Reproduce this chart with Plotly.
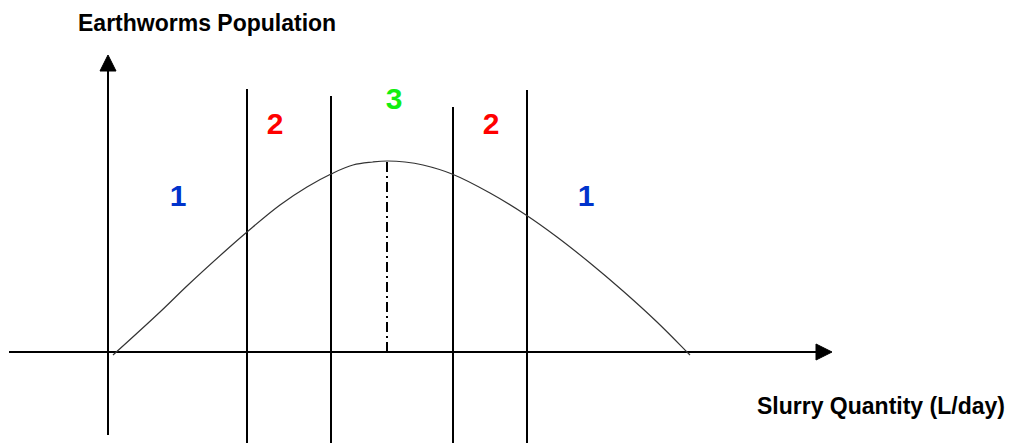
import plotly.graph_objects as go

# origin of the sketch = where the two axes cross; 1 unit ~ 1 px
curve_x = [5, 52, 80, 115, 139, 172, 199, 223, 245, 265, 279, 297, 315, 344, 382, 418, 449, 482, 515, 549, 579, 582]
curve_y = [-3, 40, 67, 99, 120, 147, 165, 178, 187, 190, 191, 190, 187, 178, 159, 137, 115, 89, 61, 30, 0, -3]

# zone boundaries (vertical lines) and their top ends
bound_x = [139, 223, 345, 419]
bound_top = [263, 256, 245, 262]
bound_bottom = -91

# optimum marker (dash-dot) at the peak of the curve
peak_x = 279
peak_y = 191

# zone labels
zone_text = ["1", "2", "3", "2", "1"]
zone_x = [70, 167, 286, 383, 478]
zone_y = [154, 226, 251, 226, 154]
zone_color = ["#0033cc", "#ff0000", "#11ee11", "#ff0000", "#0033cc"]

# axes extents
x_axis = [-99, 724]
y_axis = [-83, 297]
head_len = 16
head_half = 8

FONT = "Liberation Sans, Arial, sans-serif"

fig = go.Figure()

# axis lines
fig.add_trace(go.Scatter(x=[x_axis[0], x_axis[1] - head_len], y=[0, 0], mode="lines",
                         line=dict(color="black", width=2), hoverinfo="skip"))
fig.add_trace(go.Scatter(x=[0, 0], y=[y_axis[0], y_axis[1] - head_len], mode="lines",
                         line=dict(color="black", width=2), hoverinfo="skip"))

# arrow heads
tx = x_axis[1]
fig.add_trace(go.Scatter(x=[tx, tx - head_len, tx - head_len, tx], y=[0, head_half, -head_half, 0],
                         mode="lines", fill="toself", fillcolor="black",
                         line=dict(color="black", width=1), hoverinfo="skip"))
ty = y_axis[1]
fig.add_trace(go.Scatter(x=[0, -head_half, head_half, 0], y=[ty, ty - head_len, ty - head_len, ty],
                         mode="lines", fill="toself", fillcolor="black",
                         line=dict(color="black", width=1), hoverinfo="skip"))

# zone boundaries
for bx, bt in zip(bound_x, bound_top):
    fig.add_trace(go.Scatter(x=[bx, bx], y=[bound_bottom, bt], mode="lines",
                             line=dict(color="black", width=2), hoverinfo="skip"))

# population curve
fig.add_trace(go.Scatter(x=curve_x, y=curve_y, mode="lines", line_shape="spline",
                         line=dict(color="#333333", width=1.2, smoothing=1.1), hoverinfo="skip"))

# optimum line
fig.add_trace(go.Scatter(x=[peak_x, peak_x], y=[0, peak_y], mode="lines",
                         line=dict(color="black", width=2, dash="10px,4px,2px,4px"),
                         hoverinfo="skip"))

# zone numbers
fig.add_trace(go.Scatter(x=zone_x, y=zone_y, mode="text", text=zone_text,
                         textposition="middle center",
                         textfont=dict(family=FONT, size=30, color=zone_color, weight="bold"),
                         hoverinfo="skip"))

fig.add_annotation(x=99, y=329, text="Earthworms Population", showarrow=False,
                   font=dict(family=FONT, size=23, color="black", weight="bold"))
fig.add_annotation(x=773, y=-54, text="Slurry Quantity (L/day)", showarrow=False,
                   font=dict(family=FONT, size=23, color="black", weight="bold"))

# page body keeps its default 8px margin, so the figure is 8px smaller
fig.update_layout(
    width=1006,
    height=435,
    margin=dict(l=0, r=0, t=0, b=0),
    paper_bgcolor="white",
    plot_bgcolor="white",
    showlegend=False,
    xaxis=dict(range=[-100, 906], visible=False, fixedrange=True),
    yaxis=dict(range=[-91, 344], visible=False, fixedrange=True),
)

fig.write_html("out.html", config={"displayModeBar": False})
